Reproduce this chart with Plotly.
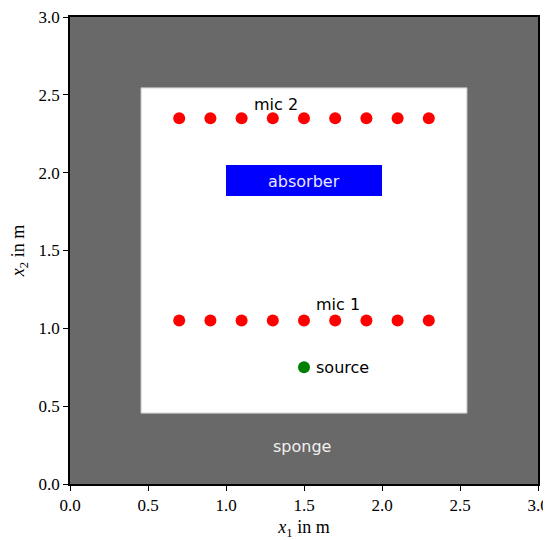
import plotly.graph_objects as go

# Data
mic_x = [0.7, 0.9, 1.1, 1.3, 1.5, 1.7, 1.9, 2.1, 2.3]
mic1_y = [1.05] * 9
mic2_y = [2.35] * 9
source_x = [1.5]
source_y = [0.75]
room = [0.0, 3.0, 0.0, 3.0]          # x0, x1, y0, y1 (sponge)
inner = [0.455, 2.545, 0.455, 2.545]  # free field
absorber = [1.0, 2.0, 1.85, 2.05]
labels = ["mic 2", "mic 1", "source", "absorber", "sponge"]
label_x = [1.32, 1.715, 1.565, 1.5, 1.49]
label_y = [2.44, 1.155, 0.75, 1.945, 0.24]

fig = go.Figure()
fig.add_shape(type="rect", xref="x", yref="y", x0=room[0], x1=room[1], y0=room[2], y1=room[3],
              fillcolor="#696969", line=dict(width=0), layer="below")
fig.add_shape(type="rect", xref="x", yref="y", x0=inner[0], x1=inner[1], y0=inner[2], y1=inner[3],
              fillcolor="white", line=dict(width=1, color="#bbbbbb"), layer="below")
fig.add_shape(type="rect", xref="x", yref="y", x0=absorber[0], x1=absorber[1], y0=absorber[2], y1=absorber[3],
              fillcolor="#0000ff", line=dict(width=0), layer="below")

fig.add_trace(go.Scatter(x=mic_x, y=mic2_y, mode="markers",
                         marker=dict(color="red", size=12, line=dict(width=0)), showlegend=False))
fig.add_trace(go.Scatter(x=mic_x, y=mic1_y, mode="markers",
                         marker=dict(color="red", size=12, line=dict(width=0)), showlegend=False))
fig.add_trace(go.Scatter(x=source_x, y=source_y, mode="markers",
                         marker=dict(color="green", size=12, line=dict(width=0)), showlegend=False))

colors = ["black", "black", "black", "#e8e8ff", "#f0f0f0"]
anchors = ["center", "center", "left", "center", "center"]
for t, x, y, c, a in zip(labels, label_x, label_y, colors, anchors):
    fig.add_annotation(x=x, y=y, text=t, showarrow=False, xanchor=a, yanchor="middle",
                       font=dict(family="DejaVu Sans", size=16, color=c))

axis_common = dict(range=[0, 3], dtick=0.5, tickformat=".1f", showgrid=False, zeroline=False,
                   showline=True, linecolor="black", linewidth=1.5, mirror=True,
                   ticks="outside", ticklen=5, tickcolor="black", automargin=False,
                   ticklabeloverflow="allow",
                   tickfont=dict(family="Liberation Serif", size=17, color="black"))
fig.update_xaxes(**axis_common, title=dict(text="<i>x</i><sub>1</sub> in m", standoff=14,
                 font=dict(family="Liberation Serif", size=18, color="black")))
fig.update_yaxes(**axis_common,
                 title=dict(text="<i>x</i><sub>2</sub> in m", standoff=10,
                 font=dict(family="Liberation Serif", size=18, color="black")))

fig.update_layout(width=543, height=532, margin=dict(l=62, r=13, t=9, b=56),
                  plot_bgcolor="white", paper_bgcolor="white")
fig.write_html("out.html")
